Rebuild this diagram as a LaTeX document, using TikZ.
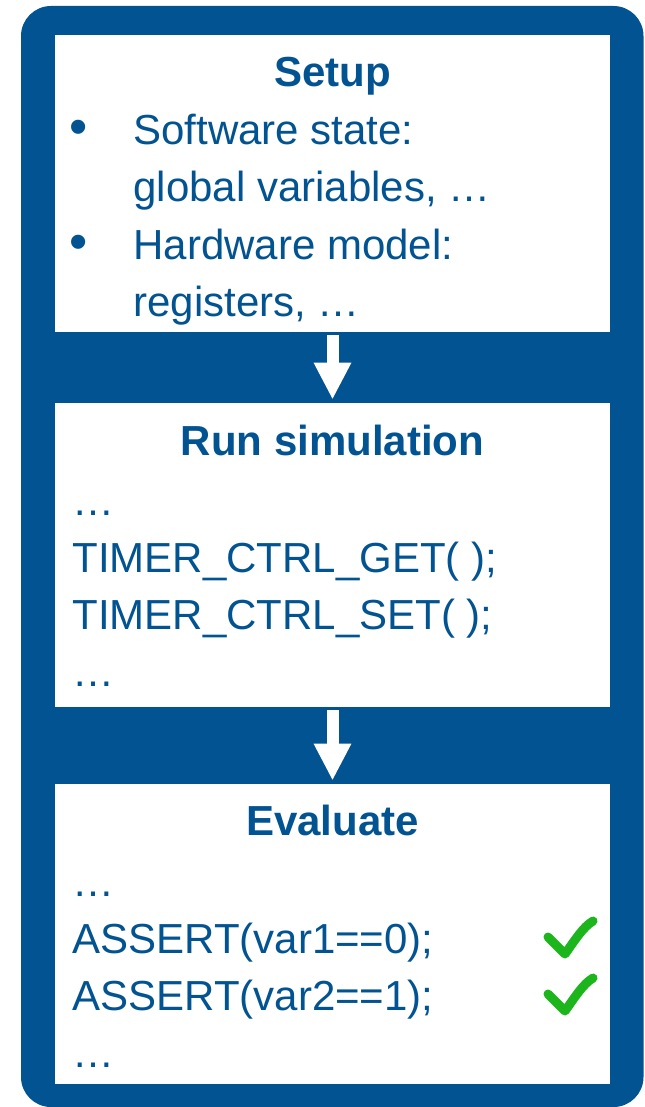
\documentclass[tikz,border=0pt]{standalone}
\usepackage{fontspec}
\setmainfont{Liberation Sans}
\usetikzlibrary{arrows.meta}
\definecolor{stageblue}{RGB}{2,83,145}
\definecolor{okgreen}{RGB}{28,182,28}
\newcommand{\bodysize}{\fontsize{21}{28.5}\selectfont}
\tikzstyle{stage}=[rectangle,fill=white,minimum width=277.5pt,inner sep=0pt]
\tikzstyle{heading}=[font=\bodysize\bfseries,text=stageblue,anchor=base,inner sep=0pt]
\tikzstyle{codeline}=[font=\bodysize,text=stageblue,anchor=base west,inner sep=0pt]
\tikzstyle{bulletmark}=[font=\fontsize{26}{28.5}\selectfont,text=stageblue,anchor=base,inner sep=0pt]
\tikzstyle{flow}=[draw=white,line width=6pt,-{Triangle[length=18.5pt,width=17.5pt]},shorten <=1.5pt,shorten >=1.5pt]
\tikzstyle{checkmark}=[draw=okgreen,line width=4.5pt,line cap=round,line join=round]

\begin{document}
\begin{tikzpicture}[x=0.5pt,y=-0.5pt]
    \useasboundingbox (0,0) rectangle (644,1107);
    % Blue frame behind the three stages
    \fill[stageblue, rounded corners=15pt] (21,6) rectangle (643.5,1107);

    % The stages
    \node[stage, minimum height=148.5pt] (setup) at (332.5,183.5) {};
    \node[stage, minimum height=152pt] (run) at (332.5,555) {};
    \node[stage, minimum height=150pt] (evaluate) at (332.5,934) {};

    \draw[flow] (setup) -- (run);
    \draw[flow] (run) -- (evaluate);

    % Headings
    \node[heading] (setuptitle) at (332.5,87) {Setup};
    \node[heading] (runtitle) at (332.5,455) {Run simulation};
    \node[heading] (evaltitle) at (332.5,835) {Evaluate};

    % Setup list
    \foreach \pos/\name in {{(79,145)/swbullet}, {(79,259)/hwbullet}}
        \node[bulletmark] (\name) at \pos {•};
    \foreach \pos/\name/\words in {{(133,145)/swstate/Software state:}, {(133,202)/globals/global variables, …},
                                   {(133,259)/hwmodel/Hardware model:}, {(133,316)/regs/registers, …}}
        \node[codeline] (\name) at \pos {\words};

    % Simulation and evaluation lines
    \foreach \pos/\name/\words in {{(72,515)/runfirst/…}, {(72,572)/getcall/TIMER\_CTRL\_GET( );},
                                   {(72,629)/setcall/TIMER\_CTRL\_SET( );}, {(72,686)/runlast/…},
                                   {(72,896)/evalfirst/…}, {(72,953)/assertone/ASSERT(var1==0);},
                                   {(72,1010)/asserttwo/ASSERT(var2==1);}, {(72,1067)/evallast/…}}
        \node[codeline] (\name) at \pos {\words};

    % Check marks
    \foreach \dy in {0,57}
        \draw[checkmark] (548,{937+\dy}) -- (565,{954+\dy}) .. controls (575,{940+\dy}) and (583,{927+\dy}) .. (593,{921+\dy});
\end{tikzpicture}
\end{document}
